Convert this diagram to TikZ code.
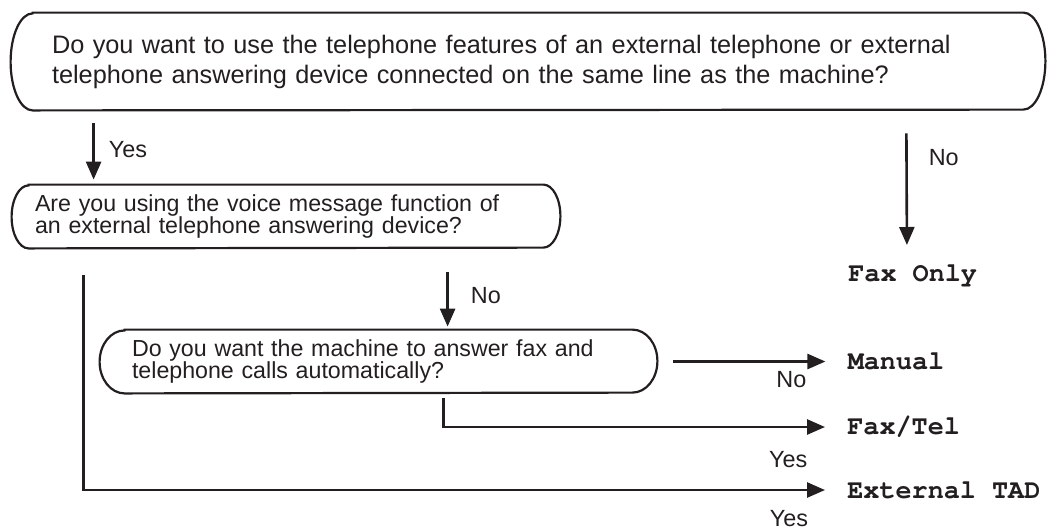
\documentclass[tikz,border=0pt]{standalone}
\usepackage[T1]{fontenc}
\usepackage{fontspec}
\setmainfont{Liberation Sans}
\usetikzlibrary{arrows.meta,positioning}
\definecolor{ink}{HTML}{231F20}

\begin{document}
\begin{tikzpicture}[
        x=0.5pt,
        y=-0.5pt,
        font={\fontsize{11.6}{11}\selectfont\lineskiplimit=-10pt},
        qline/.style={draw=ink, line width=1.1pt},
        question/.style={rectangle, align=left, inner ysep=0pt, text=ink},
        flow/.style={draw=ink, line width=1.3pt, -{Triangle[width=7.5pt,length=9pt]}},
        flowlabel/.style={font=\fontsize{11.7}{13}\selectfont, inner sep=0pt, text=ink},
        outcome/.style={font=\fontencoding{T1}\fontfamily{pcr}\fontseries{b}\fontsize{13.4}{15}\selectfont, inner sep=0pt, text=ink}
    ]
    \useasboundingbox (0,0) rectangle (1047,531);

    % Questions, with their outlines drawn afterwards.
    \node[question, minimum width=517pt, minimum height=48.5pt, text width=476pt, inner xsep=20.5pt,
          font=\fontsize{12.65}{15}\selectfont] (box1) at (528,61.5)
        {Do you want to use the telephone features of an external telephone or external\\
         telephone answering device connected on the same line as the machine?};
    \node[question, minimum width=274pt, minimum height=31.5pt, text width=251pt, inner xsep=11.5pt] (box2) at (286,216.5)
        {Are you using the voice message function of\\
         an external telephone answering device?};
    \node[question, minimum width=278.5pt, minimum height=31.5pt, text width=246.5pt, inner xsep=16pt] (box3) at (378.5,361.5)
        {Do you want the machine to answer fax and\\
         telephone calls automatically?};
    \foreach \b/\rx/\ry in {box1/11/24.25,box2/8.5/15.75,box3/12.5/15.75} {
        \draw[qline] ([xshift=\rx pt]\b.north west) -- ([xshift=-\rx pt]\b.north east)
            arc[start angle=90, end angle=-90, x radius=\rx pt, y radius=\ry pt]
            -- ([xshift=\rx pt]\b.south west)
            arc[start angle=270, end angle=90, x radius=\rx pt, y radius=\ry pt] -- cycle;
    }

    % Reception modes
    \node[outcome, anchor=north west] (out1) at (848,264) {Fax Only};
    \node[outcome, right=95pt of box3] (out2) {Manual};
    \node[outcome, anchor=west] (out3) at (847,427) {Fax/Tel};
    \node[outcome, anchor=west] (out4) at (847,490) {External TAD};

    % Answers
    \draw[flow] ([shift={(83,13)}]box1.south west) -- ([shift={(82,-5)}]box2.north west)
        node[flowlabel, pos=0.47, right=7pt] (yes1) {Yes};
    \draw[flow] ([shift={(-139,23)}]box1.south east) -- ([shift={(-5.8,-19)}]out1.north)
        node[flowlabel, pos=0.22, right=10.5pt] (no1) {No};
    \draw[flow] ([shift={(436,24)}]box2.south west) -- ([shift={(348,-3)}]box3.north west)
        node[flowlabel, pos=0.42, right=11pt] (no2) {No};
    \draw[flow, shorten <=8pt, shorten >=11pt] (box3.east) -- (box3.east -| out2.west)
        node[flowlabel, pos=0.705, below=4.25pt] (no3) {No};
    \draw[flow, shorten >=11pt] ([shift={(344,5)}]box3.south west) |- (out3.west)
        node[flowlabel, pos=0.927, below=11.5pt] (yes2) {Yes};
    \draw[flow, shorten >=11pt] ([shift={(72,27)}]box2.south west) |- (out4.west)
        node[flowlabel, pos=0.962, below=9.5pt] (yes3) {Yes};
\end{tikzpicture}
\end{document}
